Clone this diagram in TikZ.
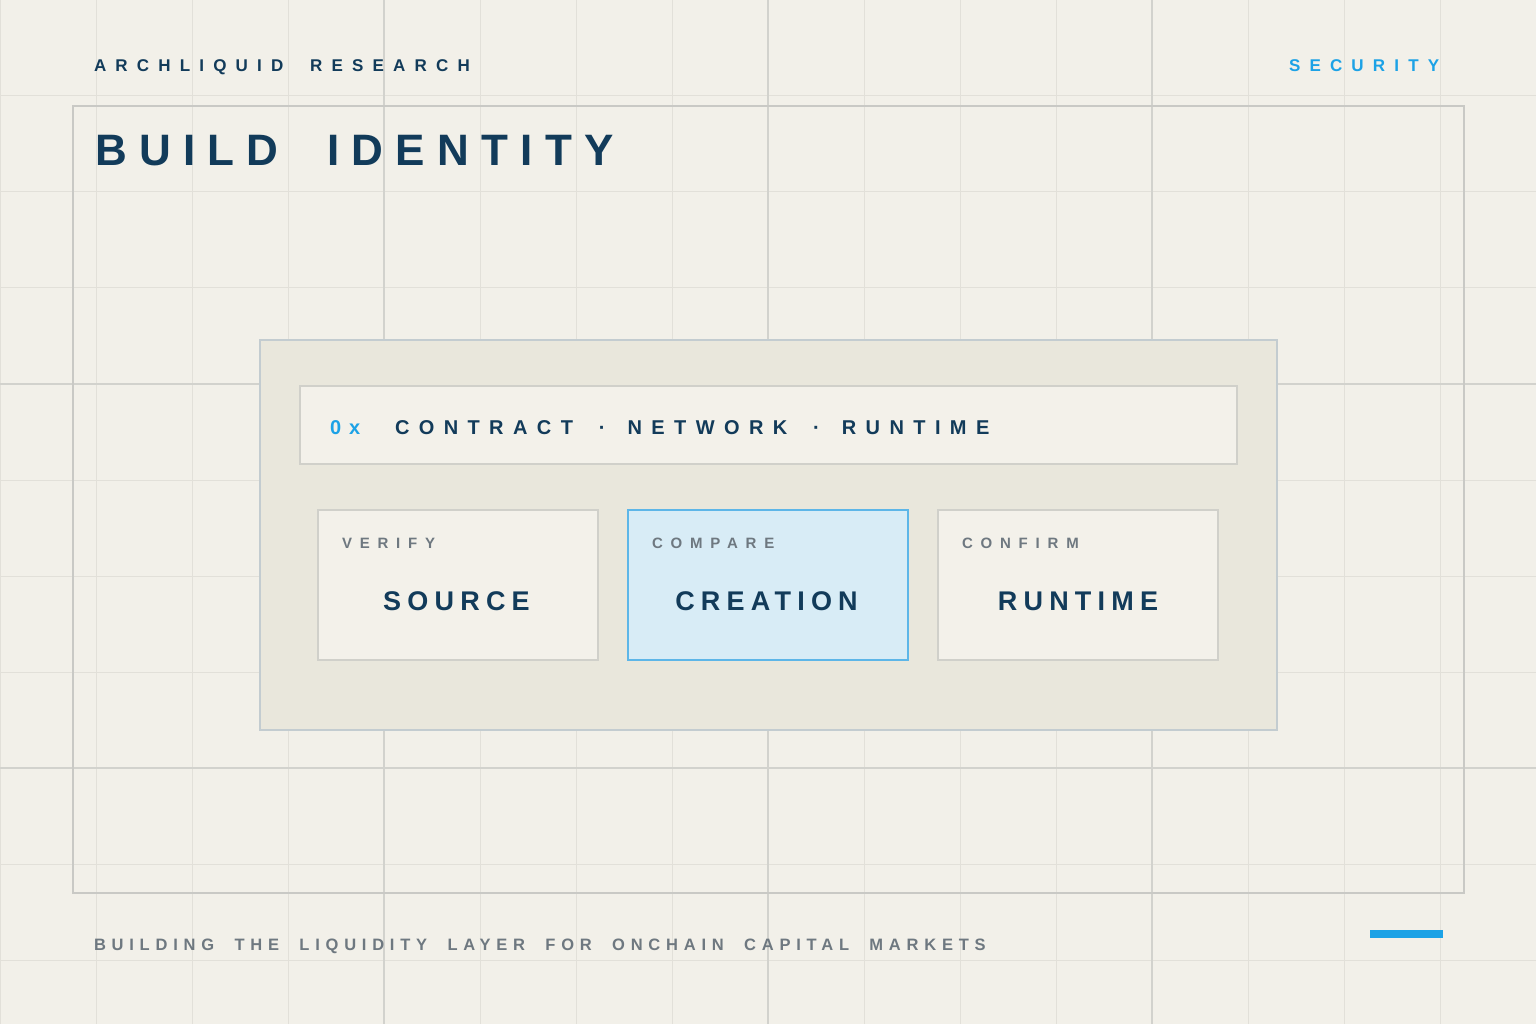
\documentclass[tikz,border=0pt]{standalone}
\usepackage{fontspec}
\setmainfont{Liberation Sans}
\definecolor{bg}{HTML}{F2F0E9}
\definecolor{gridminor}{HTML}{E2E0D9}
\definecolor{gridmajor}{HTML}{D2D2CD}
\definecolor{navy}{HTML}{123B5A}
\definecolor{accent}{HTML}{1CA2E6}
\definecolor{greytext}{HTML}{6E7880}
\definecolor{panelfill}{HTML}{E9E7DC}
\definecolor{panelline}{HTML}{C3CCD0}
\definecolor{boxfill}{HTML}{F3F1EA}
\definecolor{boxline}{HTML}{D0D0CA}
\definecolor{bluefill}{HTML}{D8ECF6}
\definecolor{blueline}{HTML}{5DB6E8}
\definecolor{frameline}{HTML}{C9C9C5}
\newcommand{\spc}[2]{\addfontfeature{LetterSpace=#1}#2}
\newcommand{\wg}[1]{\hspace{#1pt}}
\tikzset{
  txt/.style={inner sep=0pt, outer sep=0pt, anchor=base west},
  ctxt/.style={inner sep=0pt, outer sep=0pt, anchor=base},
  panelbox/.style={draw=panelline, line width=2pt, fill=panelfill, minimum width=1017pt, minimum height=390pt, inner sep=0pt},
  barbox/.style={draw=boxline, line width=1.5pt, fill=boxfill, minimum width=937pt, minimum height=78pt, inner sep=0pt},
  cardbox/.style={draw=boxline, line width=1.5pt, fill=boxfill, minimum width=280pt, minimum height=150pt, inner sep=0pt},
  hicard/.style={cardbox, draw=blueline, fill=bluefill},
  small/.style={txt, text=greytext, font=\fontsize{15}{15}\selectfont\bfseries},
  big/.style={ctxt, text=navy, font=\fontsize{27}{27}\selectfont\bfseries},
}
\begin{document}
\begin{tikzpicture}[x=1pt, y=-1pt]
\useasboundingbox (0,0) rectangle (1536,1024);
\fill[bg] (0,0) rectangle (1536,1024);
% grid
\foreach \i in {0,1,...,16} {
  \draw[gridminor, line width=1pt] (\i*96,0) -- (\i*96,1024);
}
\foreach \j in {0,1,...,10} {
  \draw[gridminor, line width=1pt] (0,\j*96) -- (1536,\j*96);
}
\foreach \i in {384,768,1152} {
  \draw[gridmajor, line width=1.2pt] (\i,0) -- (\i,1024);
}
\foreach \j in {384,768} {
  \draw[gridmajor, line width=1.2pt] (0,\j) -- (1536,\j);
}
% frame
\draw[frameline, line width=1.5pt] (73,106) rectangle (1464,893);
% header
\node[txt, text=navy, font=\fontsize{17}{17}\selectfont\bfseries] (brand) at (94,72) {\spc{54}{ARCHLIQUID\wg{13} RESEARCH}};
\node[txt, text=accent, font=\fontsize{17}{17}\selectfont\bfseries] (tag) at (1289,72) {\spc{54}{SECURITY}};
\node[txt, text=navy, font=\fontsize{44}{44}\selectfont\bfseries] (title) at (95,166) {\spc{28}{BUILD\wg{24} IDENTITY}};
% panel
\node[panelbox] (panel) at (768.5,535) {};
\node[barbox] (bar) at (768.5,425) {};
\node[txt, text=accent, font=\fontsize{20}{20}\selectfont\bfseries] (hex) at (330,434) {\spc{40}{0x}};
\node[txt, text=navy, font=\fontsize{20}{20}\selectfont\bfseries] (path) at (395,434) {\spc{47}{CONTRACT\wg{11} ·\wg{7} NETWORK\wg{11} ·\wg{7} RUNTIME}};
% cards
\node[cardbox] (c1) at (458,585) {};
\node[hicard] (c2) at (768,585) {};
\node[cardbox] (c3) at (1078,585) {};
\node[small] (k1) at (342,548) {\spc{52}{VERIFY}};
\node[small] (k2) at (652,548) {\spc{52}{COMPARE}};
\node[small] (k3) at (962,548) {\spc{52}{CONFIRM}};
\node[big] (v1) at (456.5,610.5) {\spc{23}{SOURCE}};
\node[big] (v2) at (766.5,610.5) {\spc{23}{CREATION}};
\node[big] (v3) at (1078,610.5) {\spc{23}{RUNTIME}};
% footer
\node[txt, text=greytext, font=\fontsize{16.5}{16.5}\selectfont\bfseries] (foot) at (94,950) {\spc{35}{BUILDING\wg{10} THE\wg{10} LIQUIDITY\wg{10} LAYER\wg{10} FOR\wg{10} ONCHAIN\wg{10} CAPITAL\wg{10} MARKETS}};
\fill[accent] (1370,930) rectangle (1443,938);
\end{tikzpicture}
\end{document}
